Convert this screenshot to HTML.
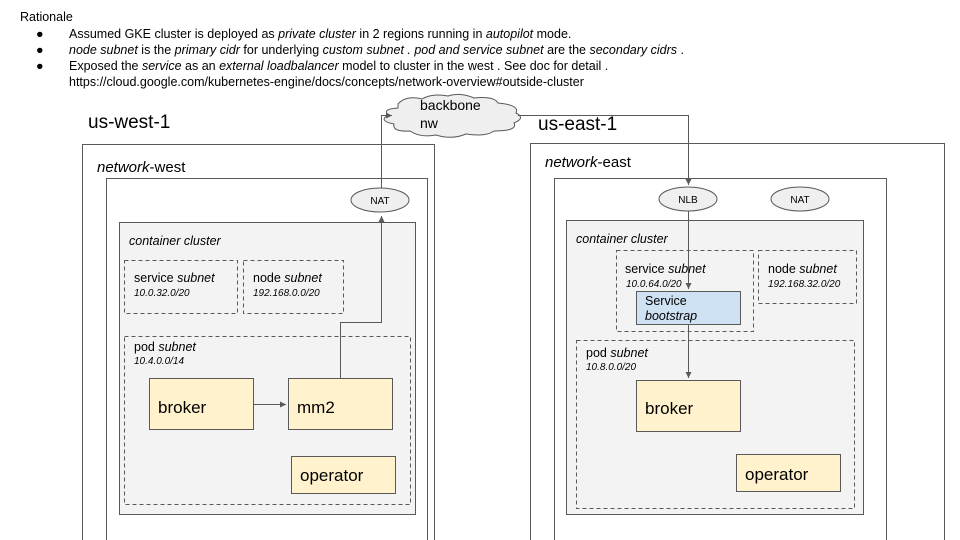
<!DOCTYPE html>
<html><head><meta charset="utf-8"><style>
html,body{margin:0;padding:0;background:#fff;width:960px;height:540px;overflow:hidden}
svg{display:block;font-family:"Liberation Sans",Arial,sans-serif}
</style></head><body>
<svg width="960" height="540" viewBox="0 0 960 540" xmlns="http://www.w3.org/2000/svg">
<defs><marker id="a" markerWidth="8" markerHeight="8" refX="6" refY="3" orient="auto" markerUnits="userSpaceOnUse"><path d="M0,0 L6,3 L0,6 z" fill="#595959"/></marker></defs>
<g font-size="12.5" fill="#000">
<text x="20" y="21">Rationale</text>
<text x="36" y="38">●</text><text x="36" y="54">●</text><text x="36" y="70">●</text>
<text x="69" y="38">Assumed GKE cluster is deployed as <tspan font-style="italic">private cluster</tspan> in 2 regions running in <tspan font-style="italic">autopilot</tspan> mode.</text>
<text x="69" y="54"><tspan font-style="italic">node subnet</tspan> is the <tspan font-style="italic">primary cidr</tspan> for underlying <tspan font-style="italic">custom subnet . pod and service subnet</tspan> are the <tspan font-style="italic">secondary cidrs</tspan> .</text>
<text x="69" y="70">Exposed the <tspan font-style="italic">service</tspan> as an <tspan font-style="italic">external loadbalancer</tspan> model to cluster in the west . See doc for detail .</text>
<text x="69" y="86">https://cloud.google.com/kubernetes-engine/docs/concepts/network-overview#outside-cluster</text>
</g>
<g fill="none" stroke="#595959" stroke-width="1">
<rect x="82.5" y="144.5" width="352" height="410"/>
<rect x="106.5" y="178.5" width="321" height="380"/>
<rect x="119.5" y="222.5" width="296" height="292" fill="#f3f3f3"/>
<rect x="530.5" y="143.5" width="414" height="410"/>
<rect x="554.5" y="178.5" width="332" height="380"/>
<rect x="566.5" y="220.5" width="297" height="294" fill="#f3f3f3"/>
<g stroke-dasharray="4,3">
<rect x="124.5" y="260.5" width="113" height="53"/>
<rect x="243.5" y="260.5" width="100" height="53"/>
<rect x="124.5" y="336.5" width="286" height="168"/>
<rect x="616.5" y="250.5" width="137" height="81"/>
<rect x="758.5" y="250.5" width="98" height="53"/>
<rect x="576.5" y="340.5" width="278" height="168"/>
</g>
<rect x="149.5" y="378.5" width="104" height="51" fill="#fff2cc"/>
<rect x="288.5" y="378.5" width="104" height="51" fill="#fff2cc"/>
<rect x="291.5" y="456.5" width="104" height="37" fill="#fff2cc"/>
<rect x="636.5" y="380.5" width="104" height="51" fill="#fff2cc"/>
<rect x="736.5" y="454.5" width="104" height="37" fill="#fff2cc"/>
<rect x="636.5" y="291.5" width="104" height="33" fill="#cfe2f3"/>
<ellipse cx="380" cy="200" rx="29" ry="12" fill="#efefef"/>
<ellipse cx="688" cy="199" rx="29" ry="12" fill="#efefef"/>
<ellipse cx="800" cy="199" rx="29" ry="12" fill="#efefef"/>
<path d="M398,104 q8,-9 24,-5 q10,-6 26,-3 q12,-4 26,2 q20,-2 24,5 q22,2 18,10 q10,5 -2,10 q4,8 -20,8 q-8,6 -28,3 q-14,6 -30,1 q-16,3 -26,-4 q-18,1 -16,-7 q-16,-3 -6,-9 q-6,-6 10,-7 z" fill="#efefef"/>
<path d="M253.5,404.5 H286" marker-end="url(#a)"/>
<path d="M340.5,378 V322.5 H381.5 V216" marker-end="url(#a)"/>
<path d="M381.5,188 V115.5 H392" marker-end="url(#a)"/>
<path d="M518,115.5 H688.5 V185" marker-end="url(#a)"/>
<path d="M688.5,211 V289" marker-end="url(#a)"/>
<path d="M688.5,324 V378" marker-end="url(#a)"/>
</g>
<g fill="#000">
<text x="420" y="110" font-size="14">backbone</text>
<text x="420" y="128" font-size="14">nw</text>
<text x="88" y="128" font-size="19">us-west-1</text>
<text x="538" y="130" font-size="19">us-east-1</text>
<text x="97" y="172" font-size="15"><tspan font-style="italic">network</tspan>-west</text>
<text x="545" y="167" font-size="15"><tspan font-style="italic">network</tspan>-east</text>
<text x="129" y="245" font-size="12.5" font-style="italic">container cluster</text>
<text x="576" y="243" font-size="12.5" font-style="italic">container cluster</text>
<text x="134" y="282" font-size="12.5">service <tspan font-style="italic">subnet</tspan></text>
<text x="134" y="296" font-size="10" font-style="italic">10.0.32.0/20</text>
<text x="253" y="282" font-size="12.5">node <tspan font-style="italic">subnet</tspan></text>
<text x="253" y="296" font-size="10" font-style="italic">192.168.0.0/20</text>
<text x="134" y="351" font-size="12.5">pod <tspan font-style="italic">subnet</tspan></text>
<text x="134" y="364" font-size="10" font-style="italic">10.4.0.0/14</text>
<text x="625" y="273" font-size="12.5">service <tspan font-style="italic">subnet</tspan></text>
<text x="626" y="287" font-size="10" font-style="italic">10.0.64.0/20</text>
<text x="768" y="273" font-size="12.5">node <tspan font-style="italic">subnet</tspan></text>
<text x="768" y="287" font-size="10" font-style="italic">192.168.32.0/20</text>
<text x="586" y="357" font-size="12.5">pod <tspan font-style="italic">subnet</tspan></text>
<text x="586" y="370" font-size="10" font-style="italic">10.8.0.0/20</text>
<text x="645" y="305" font-size="12.5">Service</text>
<text x="645" y="320" font-size="12.5" font-style="italic">bootstrap</text>
<text x="158" y="413" font-size="17">broker</text>
<text x="297" y="413" font-size="17">mm2</text>
<text x="300" y="481" font-size="17">operator</text>
<text x="645" y="414" font-size="17">broker</text>
<text x="745" y="480" font-size="17">operator</text>
<text x="380" y="204" font-size="10" text-anchor="middle">NAT</text>
<text x="688" y="203" font-size="10" text-anchor="middle">NLB</text>
<text x="800" y="203" font-size="10" text-anchor="middle">NAT</text>
</g>
</svg>
</body></html>
